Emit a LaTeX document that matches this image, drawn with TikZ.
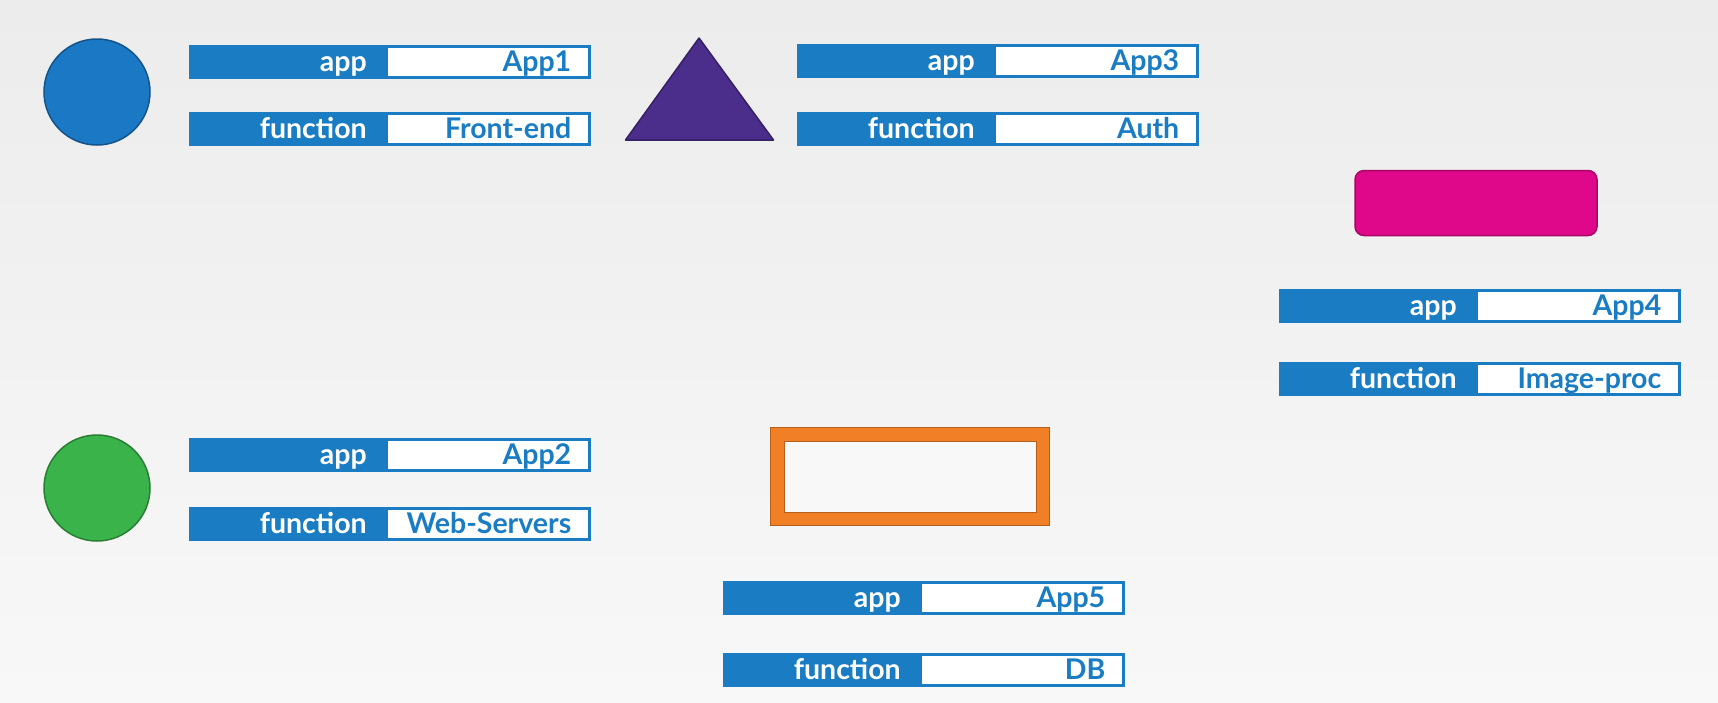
\documentclass[tikz,border=0pt]{standalone}
\usepackage{fontspec}
\setmainfont{Lato}
\usepackage{tikz}
\usetikzlibrary{positioning}
\definecolor{kblue}{RGB}{26,125,196}
\definecolor{bgtop}{RGB}{236,236,236}
\definecolor{bgbot}{RGB}{248,248,248}
\definecolor{podblue}{RGB}{27,120,196}
\definecolor{podgreen}{RGB}{58,180,74}
\definecolor{podpurple}{RGB}{75,45,140}
\definecolor{podpink}{RGB}{224,8,138}
\definecolor{podorange}{RGB}{240,127,38}
\tikzstyle{keybox}=[draw=kblue, fill=kblue, line width=2.5pt, text=white, font=\bfseries\fontsize{28.5}{28.5}\selectfont, minimum height=31pt, text height=20pt, text depth=0pt, text width=160pt, inner xsep=17pt, align=right, anchor=north west]
\tikzstyle{valbox}=[draw=kblue, fill=white, line width=2.5pt, text=kblue, font=\bfseries\fontsize{28.5}{28.5}\selectfont, minimum height=31pt, text height=20pt, text depth=0pt, text width=167pt, inner xsep=18pt, align=right]
\tikzstyle{pod}=[circle, minimum size=106pt, inner sep=0pt, line width=1.5pt]

\begin{document}
\begin{tikzpicture}[x=1pt,y=-1pt]
\useasboundingbox (0,0) rectangle (1718,702);
\shade[top color=bgtop, bottom color=bgbot] (0,0) rectangle (1718,702);
% pods
\node[pod, fill=podblue, draw=podblue!70!black] (pblue) at (97,92) {};
\node[pod, fill=podgreen, draw=podgreen!70!black] (pgreen) at (97,488) {};
\draw[fill=podpurple, draw=podpurple!70!black, line width=1.5pt, line join=round] (699,38) -- (773.5,140) -- (625.5,140) -- cycle;
\node[fill=podpink, draw=podpink!75!black, line width=1.5pt, rounded corners=9pt, minimum width=242pt, minimum height=65pt] (ppink) at (1476,203) {};
\node[fill=podorange, draw=podorange!75!black, line width=1pt, minimum width=279pt, minimum height=98pt] (porange) at (910,476.5) {};
\node[fill=bgbot, draw=podorange!75!black, line width=1pt, minimum width=252pt, minimum height=71pt] (pinner) at (porange) {};
% labels
\foreach \nm/\x/\y/\k/\v in {a/188.5/45/app/App1, b/188.5/112/function/Front-end,
  c/796.5/44/app/App3, d/796.5/112/function/Auth,
  e/1278.5/289/app/App4, f/1278.5/362/function/Image-proc,
  g/188.5/438/app/App2, h/188.5/507/function/Web-Servers,
  i/722.5/581/app/App5, j/722.5/653/function/DB} {
  \node[keybox] (k\nm) at (\x,\y) {\k};
  \node[valbox, right=0pt of k\nm] (v\nm) {\mbox{\v}};
}
\end{tikzpicture}
\end{document}
